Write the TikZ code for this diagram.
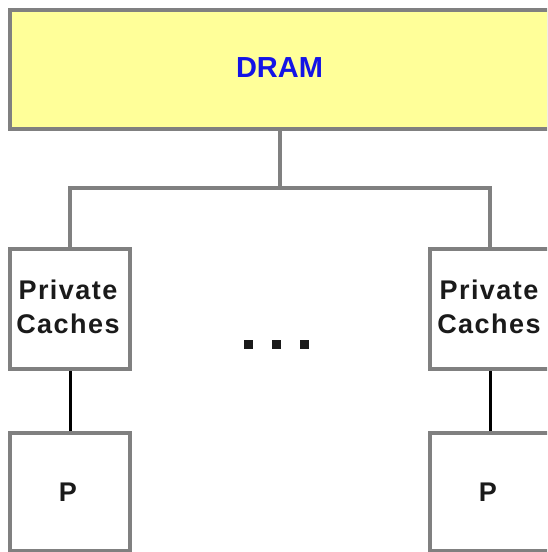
\documentclass[tikz,border=0pt]{standalone}
\usepackage{fontspec}
\setmainfont{Liberation Sans}
\newfontfamily\spacedfont[LetterSpace=5.5]{Liberation Sans}
\definecolor{boxgray}{HTML}{808080}
\definecolor{dramfill}{HTML}{FFFF99}
\definecolor{dramblue}{HTML}{1414E6}
\definecolor{txt}{HTML}{1A1A1A}
\tikzset{
  unitbox/.style={draw=boxgray, line width=4pt, fill=white, minimum width=120pt, minimum height=120pt, inner sep=0pt, font=\spacedfont\fontsize{27}{34}\selectfont\bfseries, text=txt, align=center},
  graylink/.style={draw=boxgray, line width=4pt, line join=miter},
  blacklink/.style={draw=black, line width=3pt},
  dotsq/.style={fill=txt, minimum size=9pt, inner sep=0pt}
}
\begin{document}
\begin{tikzpicture}[x=1pt, y=-1pt]
\useasboundingbox (0,0) rectangle (547,552);
\clip (0,0) rectangle (547,552);
\node[draw=boxgray, line width=4pt, fill=dramfill, minimum width=539pt, minimum height=119pt, inner sep=0pt, font=\fontsize{29}{34}\selectfont\bfseries, text=dramblue] (dram) at (279.5,69) {\raisebox{2pt}{DRAM}\hspace{3pt}};
\node[unitbox] (c1) at (70,309) {};
\node[unitbox] (c2) at (490,309) {};
\node[font=\spacedfont\fontsize{27}{34}\selectfont\bfseries, text=txt, align=center, inner sep=0pt] (t1) at (68,307) {Private\\Caches};
\node[font=\spacedfont\fontsize{27}{34}\selectfont\bfseries, text=txt, align=center, inner sep=0pt] (t2) at (489,307) {Private\\Caches};
\node[unitbox, minimum height=118pt] (p1) at (70,492) {};
\node[unitbox, minimum height=118pt] (p2) at (490,492) {};
\node[font=\fontsize{27}{34}\selectfont\bfseries, text=txt, inner sep=0pt] (pt1) at (68,492) {P};
\node[font=\fontsize{27}{34}\selectfont\bfseries, text=txt, inner sep=0pt] (pt2) at (488,492) {P};
\coordinate (bus) at (280,188);
\draw[graylink] (dram.south -| bus) -- (bus);
\draw[graylink] (c1.north) |- (bus) -| (c2.north);
\draw[blacklink] (c1.south) -- (p1.north);
\draw[blacklink] (c2.south) -- (p2.north);
\node[dotsq] (d1) at (248,344) {};
\node[dotsq] (d2) at (276,344) {};
\node[dotsq] (d3) at (304,344) {};
\end{tikzpicture}
\end{document}
